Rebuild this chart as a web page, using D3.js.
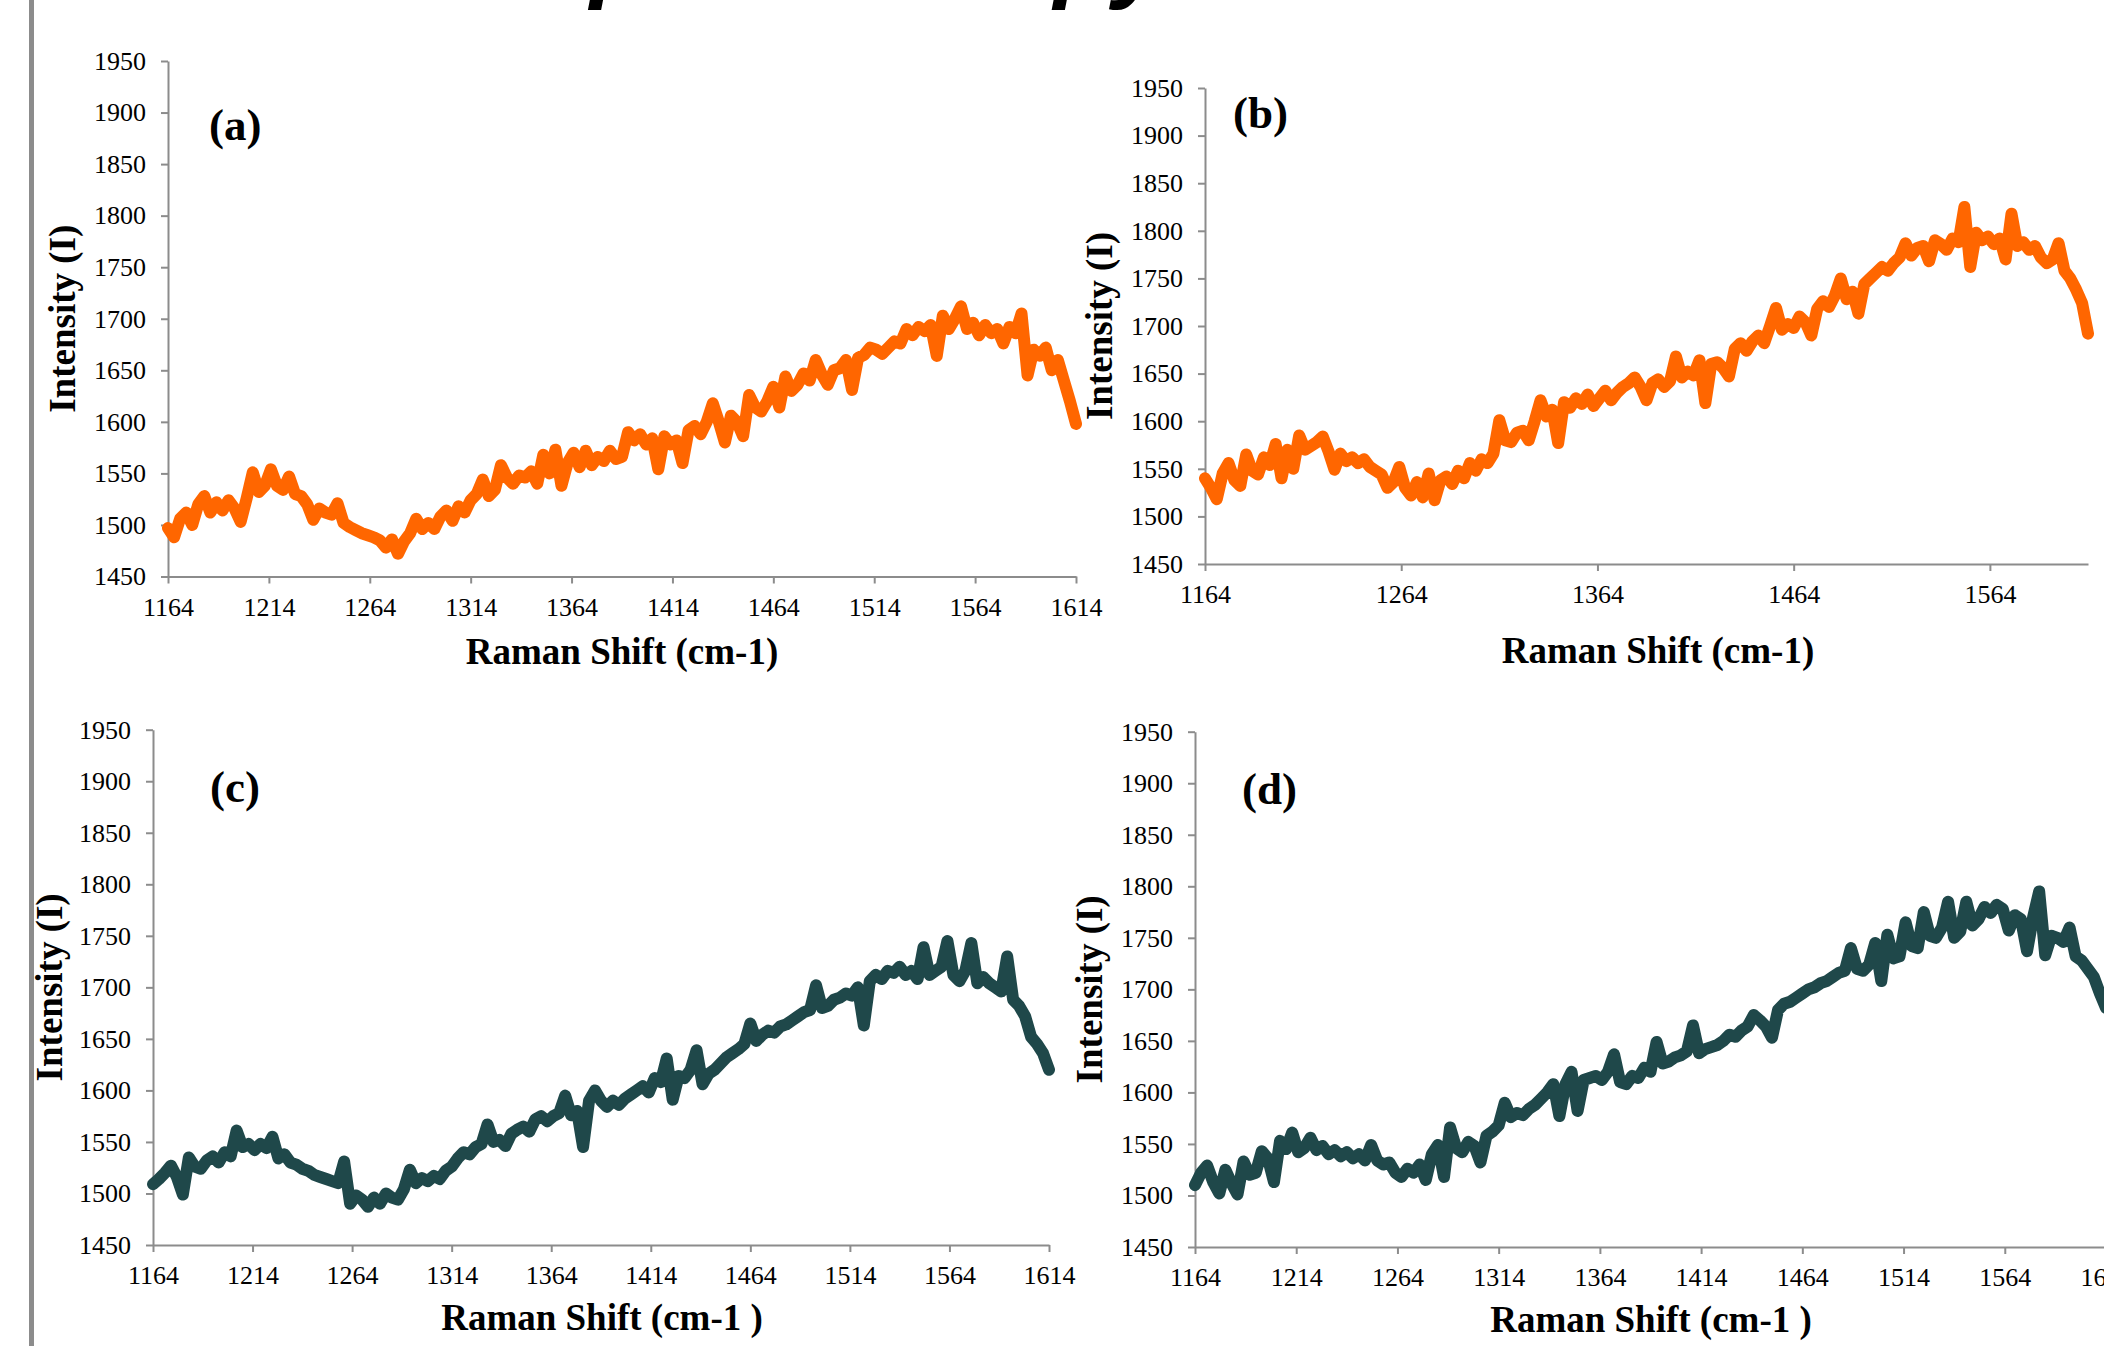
<!DOCTYPE html>
<html>
<head>
<meta charset="utf-8">
<script src="https://cdn.jsdelivr.net/npm/d3@7"></script>
<style>
  body { margin: 0; background: #fff; }
  svg { display: block; background: #fff; }
  .tick text { font-family: "Liberation Serif", "Times New Roman", serif; font-size: 26px; fill: #000; }
  .tick line, .domain { stroke: #8c8c8c; stroke-width: 2; }
  .axis-title { font-family: "Liberation Serif", "Times New Roman", serif; font-weight: bold; font-size: 37px; fill: #000; }
  .panel-label { font-family: "Liberation Serif", "Times New Roman", serif; font-weight: bold; font-size: 45px; fill: #000; }
</style>
</head>
<body>
<svg id="chart" width="2104" height="1346"></svg>
<script>
// sample grid of the spectra (cm-1), one reading every 3 cm-1
const ramanShift = d3.range(1164, 1615, 3);

const intensityA = [
  1497,1488,1506,1512,1500,1520,1528,1512,1522,1514,
  1524,1516,1503,1526,1551,1532,1538,1554,1538,1534,
  1547,1530,1528,1520,1505,1516,1512,1510,1521,1502,
  1498,1495,1492,1490,1488,1485,1478,1486,1472,1484,
  1492,1506,1496,1502,1496,1508,1514,1504,1518,1512,
  1524,1530,1544,1528,1534,1558,1546,1540,1548,1546,
  1552,1540,1568,1550,1573,1538,1560,1570,1556,1572,
  1558,1566,1562,1572,1564,1566,1590,1582,1588,1578,
  1584,1554,1586,1578,1582,1560,1592,1596,1588,1600,
  1618,1600,1580,1606,1600,1586,1626,1614,1610,1620,
  1634,1614,1644,1630,1636,1647,1640,1660,1646,1636,
  1650,1652,1660,1631,1662,1665,1672,1670,1666,1672,
  1678,1676,1690,1684,1692,1688,1694,1664,1703,1690,
  1700,1712,1690,1696,1684,1694,1686,1690,1676,1692,
  1686,1705,1645,1670,1664,1672,1650,1660,1640,1620,
  1598
];
const intensityB = [
  1540,1530,1518,1545,1556,1538,1532,1565,1548,1544,
  1562,1554,1576,1540,1570,1550,1585,1570,1574,1578,
  1584,1568,1549,1566,1558,1562,1556,1560,1552,1548,
  1544,1530,1536,1552,1530,1522,1536,1520,1545,1517,
  1538,1542,1534,1548,1540,1556,1548,1560,1556,1566,
  1601,1580,1578,1588,1590,1580,1600,1622,1605,1612,
  1577,1620,1614,1624,1618,1628,1616,1624,1632,1622,
  1630,1636,1640,1646,1636,1622,1640,1644,1636,1642,
  1668,1646,1652,1648,1664,1619,1660,1662,1656,1647,
  1676,1682,1674,1684,1690,1682,1700,1719,1696,1702,
  1698,1710,1704,1690,1718,1726,1720,1732,1750,1728,
  1736,1713,1744,1750,1756,1762,1758,1766,1772,1787,
  1774,1782,1784,1768,1790,1786,1780,1792,1788,1825,
  1762,1798,1790,1794,1786,1792,1770,1818,1784,1788,
  1780,1784,1772,1766,1770,1787,1758,1750,1738,1724,
  1692
];
const intensityC = [
  1509,1514,1520,1527,1516,1499,1535,1526,1524,1532,
  1536,1530,1540,1536,1561,1545,1548,1542,1548,1544,
  1555,1534,1538,1530,1528,1524,1522,1518,1516,1514,
  1512,1510,1531,1490,1498,1494,1487,1496,1490,1500,
  1496,1494,1504,1523,1510,1515,1512,1517,1514,1522,
  1526,1534,1540,1538,1545,1548,1567,1550,1552,1546,
  1558,1562,1565,1560,1572,1575,1570,1575,1578,1595,
  1576,1580,1545,1590,1600,1590,1584,1590,1586,1592,
  1596,1600,1604,1598,1612,1608,1631,1591,1614,1612,
  1620,1639,1606,1616,1620,1626,1632,1636,1640,1645,
  1665,1648,1654,1658,1656,1662,1664,1668,1672,1676,
  1678,1702,1680,1682,1688,1690,1694,1692,1700,1663,
  1706,1712,1708,1716,1714,1720,1712,1716,1708,1739,
  1712,1716,1720,1745,1712,1706,1716,1743,1704,1710,
  1704,1700,1696,1730,1688,1682,1672,1652,1645,1636,
  1620
];
const intensityD = [
  1510,1522,1529,1513,1502,1525,1512,1501,1533,1520,
  1522,1543,1536,1513,1553,1545,1561,1542,1546,1556,
  1544,1548,1540,1544,1538,1542,1536,1540,1534,1549,
  1534,1530,1532,1522,1518,1526,1522,1530,1515,1540,
  1549,1518,1566,1546,1542,1552,1548,1532,1558,1562,
  1568,1590,1576,1580,1578,1584,1588,1594,1600,1608,
  1577,1608,1620,1582,1612,1614,1616,1612,1620,1637,
  1610,1608,1616,1614,1624,1620,1649,1628,1630,1634,
  1636,1640,1665,1638,1642,1644,1646,1650,1656,1654,
  1660,1664,1675,1670,1664,1653,1680,1686,1688,1692,
  1696,1700,1702,1706,1708,1712,1716,1718,1740,1720,
  1718,1724,1745,1708,1753,1730,1732,1765,1742,1740,
  1775,1752,1750,1760,1785,1750,1756,1785,1762,1768,
  1780,1774,1782,1778,1757,1772,1768,1737,1770,1795,
  1733,1752,1750,1746,1760,1732,1728,1720,1712,1696,
  1682
];

const yTicks = [1450, 1500, 1550, 1600, 1650, 1700, 1750, 1800, 1850, 1900, 1950];
const xTicks50 = [1164, 1214, 1264, 1314, 1364, 1414, 1464, 1514, 1564, 1614];
const xTicks100 = [1164, 1264, 1364, 1464, 1564];

const orange = '#ff6600';
const teal = '#1f484a';

const panels = [
  { label: '(a)', values: intensityA, color: orange, xTicks: xTicks50,
    left: 168, right: 1076, top: 61, bottom: 576.5,
    labelX: 209, labelY: 140, yTitleX: 75, xTitle: 'Raman Shift (cm-1)', xTitleX: 622, xTitleY: 664 },
  { label: '(b)', values: intensityB, color: orange, xTicks: xTicks100,
    left: 1205, right: 2088, top: 88, bottom: 564,
    labelX: 1233, labelY: 128, yTitleX: 1112, xTitle: 'Raman Shift (cm-1)', xTitleX: 1658, xTitleY: 663 },
  { label: '(c)', values: intensityC, color: teal, xTicks: xTicks50,
    left: 153, right: 1049, top: 729.7, bottom: 1245,
    labelX: 210, labelY: 802, yTitleX: 62, xTitle: 'Raman Shift (cm-1 )', xTitleX: 602, xTitleY: 1330 },
  { label: '(d)', values: intensityD, color: teal, xTicks: xTicks50,
    left: 1195, right: 2106, top: 731.7, bottom: 1247,
    labelX: 1242, labelY: 804, yTitleX: 1102, xTitle: 'Raman Shift (cm-1 )', xTitleX: 1651, xTitleY: 1332 }
];

const svg = d3.select('#chart');

// page border on the left
svg.append('rect')
  .attr('x', 29).attr('y', 0)
  .attr('width', 5).attr('height', 1346)
  .attr('fill', '#8c8c8c');

// slide title, mostly cut off at the top edge
svg.append('text')
  .attr('x', 175).attr('y', -10)
  .style('font-family', '"Liberation Sans", Arial, sans-serif')
  .style('font-weight', 'bold')
  .style('font-style', 'italic')
  .style('font-size', '97px')
  .text('Raman Spectroscopy');

panels.forEach(p => {
  const g = svg.append('g');

  const x = d3.scaleLinear().domain([1164, 1614]).range([p.left, p.right]);
  const y = d3.scaleLinear().domain([1450, 1950]).range([p.bottom, p.top]);

  g.append('g')
    .attr('transform', `translate(0,${p.bottom})`)
    .call(d3.axisBottom(x).tickValues(p.xTicks).tickSize(7).tickSizeOuter(0)
      .tickPadding(14).tickFormat(d3.format('d')));

  g.append('g')
    .attr('transform', `translate(${p.left},0)`)
    .call(d3.axisLeft(y).tickValues(yTicks).tickSize(7).tickSizeOuter(0)
      .tickPadding(15).tickFormat(d3.format('d')));

  const line = d3.line()
    .x((d, i) => x(ramanShift[i]))
    .y(d => y(d));

  g.append('path')
    .datum(p.values)
    .attr('d', line)
    .attr('fill', 'none')
    .attr('stroke', p.color)
    .attr('stroke-width', 12)
    .attr('stroke-linejoin', 'round')
    .attr('stroke-linecap', 'round');

  g.append('text')
    .attr('class', 'panel-label')
    .attr('x', p.labelX).attr('y', p.labelY)
    .text(p.label);

  g.append('text')
    .attr('class', 'axis-title')
    .attr('text-anchor', 'middle')
    .attr('x', p.xTitleX).attr('y', p.xTitleY)
    .text(p.xTitle);

  g.append('text')
    .attr('class', 'axis-title')
    .attr('text-anchor', 'middle')
    .attr('transform', `translate(${p.yTitleX},${(p.top + p.bottom) / 2}) rotate(-90)`)
    .text('Intensity (I)');
});
</script>
</body>
</html>
